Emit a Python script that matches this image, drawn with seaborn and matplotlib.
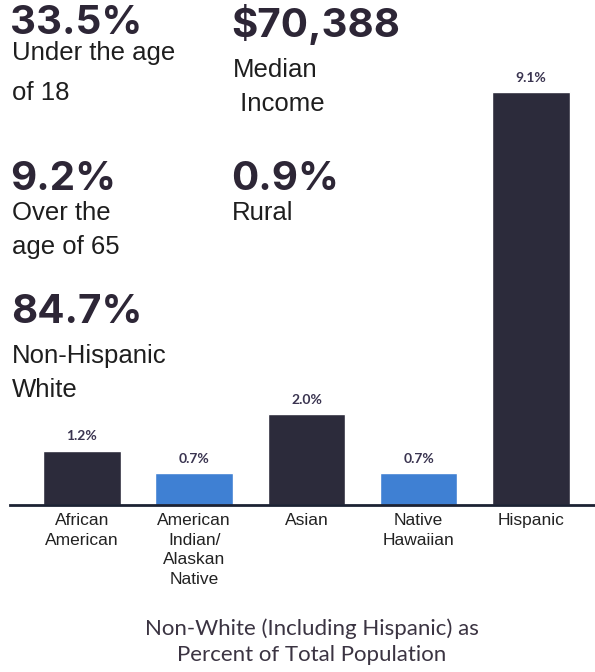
import matplotlib
matplotlib.use("Agg")
import matplotlib.pyplot as plt
import seaborn as sns
import pandas as pd

# bar chart data
categories = ["African\nAmerican", "American\nIndian/\nAlaskan\nNative", "Asian", "Native\nHawaiian", "Hispanic"]
values = [1.2, 0.7, 2.0, 0.7, 9.1]
value_labels = ["1.2%", "0.7%", "2.0%", "0.7%", "9.1%"]
groups = ["dark", "blue", "dark", "blue", "dark"]

# headline stats (number, description lines)
stat_numbers = ["33.5%", "$70,388", "9.2%", "0.9%", "84.7%"]
stat_captions = [["Under the age", "of 18"], ["Median", " Income"], ["Over the", "age of 65"],
                 ["Rural"], ["Non-Hispanic", "White"]]

title = "Non-White (Including Hispanic) as\nPercent of Total Population"

W, H = 595, 672
sns.set_theme(style="white")
plt.rcParams["font.family"] = ["Liberation Sans", "DejaVu Sans"]

fig = plt.figure(figsize=(W / 100, H / 100), dpi=100)
fig.patch.set_facecolor("white")

# axes placed so baseline sits at y=505px and 1% = ~45px
ax = fig.add_axes([10 / W, 1 - 505 / H, 585 / W, 454 / H])

df = pd.DataFrame({"cat": categories, "val": values, "grp": groups})
sns.barplot(data=df, x="cat", y="val", hue="grp", order=categories,
            palette={"dark": "#2c2b3b", "blue": "#3f80d3"}, width=0.69,
            dodge=False, legend=False, saturation=1, ax=ax)

# label each bar by its value
for patch in ax.patches:
    h = patch.get_height()
    if h <= 0:
        continue
    xc = patch.get_x() + patch.get_width() / 2
    idx = int(round(xc))
    ax.annotate(value_labels[idx], (xc, h), xytext=(0, 6), textcoords="offset points",
                ha="center", va="bottom", fontsize=10, color="#3a3450",
                family=["Lato", "DejaVu Sans"], fontweight="bold")

ax.set_xlim(-0.641, 4.57)
ax.set_ylim(0, 10)
ax.set_xlabel("")
ax.set_ylabel("")
ax.set_yticks([])
ax.tick_params(axis="x", length=0, pad=6, labelsize=12.5, colors="#222222")
for lab in ax.get_xticklabels():
    lab.set_linespacing(1.38)
for s in ["top", "left", "right"]:
    ax.spines[s].set_visible(False)
ax.spines["bottom"].set_color("#1c2233")
ax.spines["bottom"].set_linewidth(2)
ax.patch.set_alpha(0)

# headline numbers and captions, positions in pixels (x, baseline y)
num_pos = [(10, 34), (231, 37), (10, 190), (231, 190), (11, 323)]
cap_pos = [[(12, 60), (12, 100)], [(233, 77), (233, 111)], [(12, 220), (12, 254)],
           [(232, 220)], [(12, 363), (12, 397)]]

for num, (x, y) in zip(stat_numbers, num_pos):
    fig.text(x / W, 1 - y / H, num, fontsize=29, fontweight="bold", color="#2d2636",
             family=["Inter", "Lato", "DejaVu Sans"], va="baseline", ha="left")
for caps, poss in zip(stat_captions, cap_pos):
    for c, (x, y) in zip(caps, poss):
        fig.text(x / W, 1 - y / H, c, fontsize=18.5, color="#1e1e1e",
                 va="baseline", ha="left")

fig.text(312 / W, 1 - 642 / H, title, fontsize=16, color="#3b3442", ha="center", va="center",
         family=["Lato", "DejaVu Sans"], linespacing=1.35)

fig.savefig("out.png", dpi=100)
